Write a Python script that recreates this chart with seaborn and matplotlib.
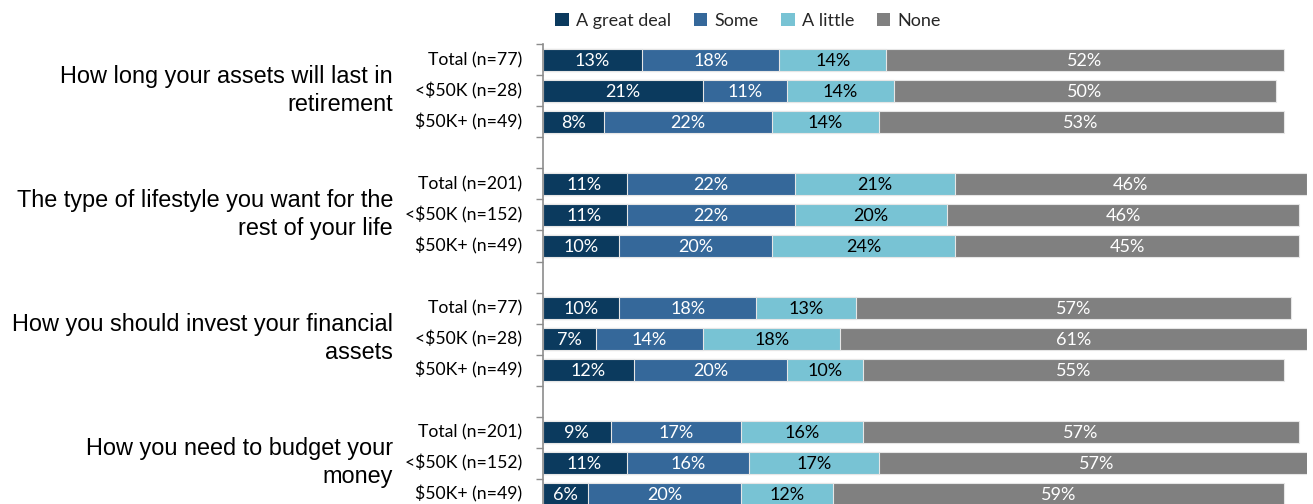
import matplotlib
matplotlib.use("Agg")
import matplotlib.pyplot as plt
import seaborn as sns
import pandas as pd
import numpy as np
from matplotlib.patches import Patch

# ---- data -------------------------------------------------------------
questions = [
    "How long your assets will last in\nretirement",
    "The type of lifestyle you want for the\nrest of your life",
    "How you should invest your financial\nassets",
    "How you need to budget your\nmoney",
]
segments = ["Total", "<$50K", "$50K+"]
sample_sizes = [
    ["Total (n=77)", "<$50K (n=28)", "$50K+ (n=49)"],
    ["Total (n=201)", "<$50K (n=152)", "$50K+ (n=49)"],
    ["Total (n=77)", "<$50K (n=28)", "$50K+ (n=49)"],
    ["Total (n=201)", "<$50K (n=152)", "$50K+ (n=49)"],
]
levels = ["A great deal", "Some", "A little", "None"]

great_deal = [13, 21, 8, 11, 11, 10, 10, 7, 12, 9, 11, 6]
some       = [18, 11, 22, 22, 22, 20, 18, 14, 20, 17, 16, 20]
a_little   = [14, 14, 14, 21, 20, 24, 13, 18, 10, 16, 17, 12]
none       = [52, 50, 53, 46, 46, 45, 57, 61, 55, 57, 57, 59]

colors = ["#0b3a5e", "#35689a", "#78c3d4", "#808080"]
text_colors = ["white", "white", "black", "white"]

# ---- slot order leaves a blank row between questions --------------------
order = []
for qi in range(len(questions)):
    for si in range(len(segments)):
        order.append(f"q{qi}_s{si}")
    if qi < len(questions) - 1:
        order.append(f"gap{qi}")

records = []
k = 0
for qi in range(len(questions)):
    for si in range(len(segments)):
        vals = [great_deal[k], some[k], a_little[k], none[k]]
        cum = np.cumsum(vals)
        for li, lev in enumerate(levels):
            records.append(dict(slot=f"q{qi}_s{si}", level=lev, value=vals[li],
                                left=cum[li] - vals[li], cum=cum[li]))
        k += 1
df = pd.DataFrame(records)

# ---- figure -------------------------------------------------------------
sns.set_theme(style="white")
plt.rcParams["font.family"] = ["Lato", "DejaVu Sans"]

W, H = 1313, 504
fig = plt.figure(figsize=(W / 100, H / 100), dpi=100)
top_px, bot_px, left_px, right_px = 44.5, 509.5, 542.5, 1306.5
ax = fig.add_axes([left_px / W, 1 - bot_px / H, (right_px - left_px) / W,
                   (bot_px - top_px) / H])
px = 100 / (right_px - left_px)  # data units per pixel along x

# stacked bars: draw cumulative totals from the outermost segment inward
for li in reversed(range(len(levels))):
    sub = df[df.level == levels[li]]
    sns.barplot(data=sub, x="cum", y="slot", order=order, orient="h",
                color=colors[li], saturation=1, width=0.74,
                edgecolor="#e6e6e6", linewidth=0.8, ax=ax, errorbar=None)

# value labels centred in each segment
pos = {s: i for i, s in enumerate(order)}
for _, r in df.iterrows():
    xc = r.left + r.value / 2
    ax.text(xc, pos[r.slot] + 0.03, f"{r.value}%", ha="center", va="center",
            fontsize=13, color=text_colors[levels.index(r.level)])

ax.set_xlim(0, 100)
ax.set_ylim(len(order) - 0.5, -0.5)
ax.set_xlabel("")
ax.set_ylabel("")
ax.set_xticks([])
ax.set_yticks(np.arange(-0.5, len(order) + 0.5, 1))
ax.set_yticklabels([])
ax.tick_params(axis="y", direction="out", length=5, width=1, color="#8c8c8c", left=True)
for side in ["top", "right", "bottom"]:
    ax.spines[side].set_visible(False)
ax.spines["left"].set_color("#8c8c8c")
ax.spines["left"].set_linewidth(1.2)

# segment labels next to the axis, question text centred on each group
for qi in range(len(questions)):
    for si in range(len(segments)):
        ax.text(-20.5 * px, pos[f"q{qi}_s{si}"], sample_sizes[qi][si],
                ha="right", va="center", fontsize=12.7, color="black")
    ax.text(-149.5 * px, pos[f"q{qi}_s1"] - 0.02, questions[qi],
            ha="right", va="center", fontsize=16.9, linespacing=1.28,
            family=["Liberation Sans", "DejaVu Sans"], color="black")

# legend across the top
handles = [Patch(facecolor=c, edgecolor="none") for c in colors]
fig.legend(handles, levels, loc="center", bbox_to_anchor=(748 / W, 1 - 21 / H),
           ncol=4, frameon=False, fontsize=13, handlelength=0.75, handleheight=0.75,
           handletextpad=0.4, columnspacing=1.25, borderaxespad=0)

fig.savefig("out.png", dpi=100)
